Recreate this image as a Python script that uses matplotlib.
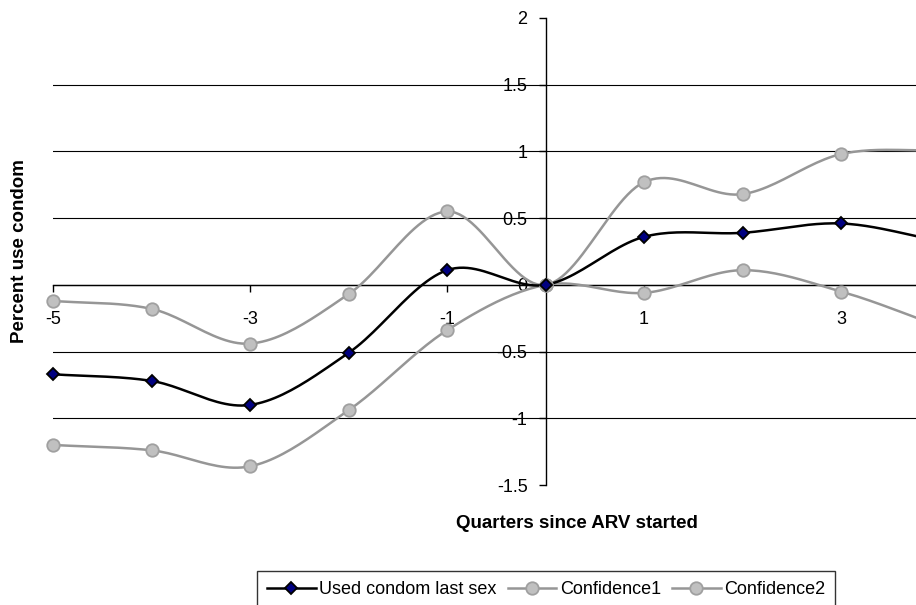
import numpy as np
import matplotlib
matplotlib.use("Agg")
import matplotlib.pyplot as plt
from matplotlib.lines import Line2D

plt.rcParams['font.family'] = ['Liberation Sans', 'DejaVu Sans']

# quarters relative to ARV start
quarters = [-5, -4, -3, -2, -1, 0, 1, 2, 3, 4]
condom_use = [-0.67, -0.72, -0.90, -0.51, 0.11, 0.0, 0.36, 0.39, 0.46, 0.33]
conf_upper = [-0.12, -0.18, -0.44, -0.07, 0.55, 0.0, 0.77, 0.68, 0.98, 1.01]
conf_lower = [-1.20, -1.24, -1.36, -0.94, -0.34, 0.0, -0.06, 0.11, -0.05, -0.31]

y_ticks = [-1.5, -1, -0.5, 0, 0.5, 1, 1.5, 2]
y_labels = ["-1.5", "-1", "-0.5", "0", "0.5", "1", "1.5", "2"]
x_ticks = [-5, -3, -1, 1, 3]


def catmull_rom(x, y, n=24):
    # smoothed line through every point, like a spreadsheet "smoothed line"
    x = np.asarray(x, float)
    y = np.asarray(y, float)
    px = np.concatenate([[2 * x[0] - x[1]], x, [2 * x[-1] - x[-2]]])
    py = np.concatenate([[2 * y[0] - y[1]], y, [2 * y[-1] - y[-2]]])
    xs, ys = [], []
    t = np.linspace(0, 1, n, endpoint=False)
    for i in range(1, len(px) - 2):
        for arr, out in ((px, xs), (py, ys)):
            p0, p1, p2, p3 = arr[i - 1], arr[i], arr[i + 1], arr[i + 2]
            out.append(0.5 * (2 * p1 + (-p0 + p2) * t
                              + (2 * p0 - 5 * p1 + 4 * p2 - p3) * t ** 2
                              + (-p0 + 3 * p1 - 3 * p2 + p3) * t ** 3))
    xs.append([x[-1]])
    ys.append([y[-1]])
    return np.concatenate(xs), np.concatenate(ys)


fig = plt.figure(figsize=(9.16, 6.05), dpi=100)
ax = fig.add_axes([53 / 916, 1 - 485 / 605, (916 - 53) / 916, (485 - 18) / 605])
ax.set_xlim(-5, 3.76)
ax.set_ylim(-1.5, 2)

for v in y_ticks[1:-1]:
    ax.axhline(v, color="black", lw=0.8, zorder=1)

gray_line = "#969696"
series = [
    (condom_use, "black", "D", "#000080", "black", 6.5, "Used condom last sex"),
    (conf_upper, gray_line, "o", "#c0c0c0", "#a0a0a0", 9, "Confidence1"),
    (conf_lower, gray_line, "o", "#c0c0c0", "#a0a0a0", 9, "Confidence2"),
]
handles = []
for vals, lc, mk, mfc, mec, ms, name in series[::-1]:
    sx, sy = catmull_rom(quarters, vals)
    ax.plot(sx, sy, color=lc, lw=1.8, zorder=3)
    # markers are not clipped at the left edge of the plot
    ax.plot(quarters, vals, ls="none", marker=mk, ms=ms, mfc=mfc, mec=mec,
            mew=1.3, zorder=4, clip_on=False)
for vals, lc, mk, mfc, mec, ms, name in series:
    handles.append(Line2D([], [], color=lc, lw=1.8, marker=mk, ms=ms,
                          mfc=mfc, mec=mec, mew=1.3, label=name))

for side in ("top", "right"):
    ax.spines[side].set_visible(False)
ax.spines["left"].set_position(("data", 0))
ax.spines["bottom"].set_position(("data", 0))
ax.spines["left"].set_linewidth(1.0)
ax.spines["bottom"].set_linewidth(1.0)

ax.set_xticks(x_ticks)
ax.set_xticklabels([str(v) for v in x_ticks])
ax.set_yticks(y_ticks)
ax.set_yticklabels(y_labels)
ax.tick_params(axis="x", direction="out", length=5, width=1, pad=14,
               labelsize=13)
ax.tick_params(axis="y", direction="out", length=5, width=1, pad=8,
               labelsize=13)
for lab in ax.get_yticklabels():
    lab.set_zorder(5)

fig.text(20 / 916, 1 - 251 / 605, "Percent use condom", rotation=90,
         ha="center", va="center", fontsize=13.5, fontweight="bold")
fig.text(577 / 916, 1 - 523 / 605, "Quarters since ARV started",
         ha="center", va="center", fontsize=13.5, fontweight="bold")

leg = fig.legend(handles=handles, loc="upper left",
                 bbox_to_anchor=(257 / 916, 1 - 571 / 605), ncol=3,
                 fontsize=13, frameon=True, fancybox=False, numpoints=1,
                 handlelength=2.7, handletextpad=0.2, columnspacing=0.6,
                 borderpad=0.55, borderaxespad=0)
leg.get_frame().set_edgecolor("black")
leg.get_frame().set_linewidth(1.0)

fig.savefig("out.png", dpi=100)
